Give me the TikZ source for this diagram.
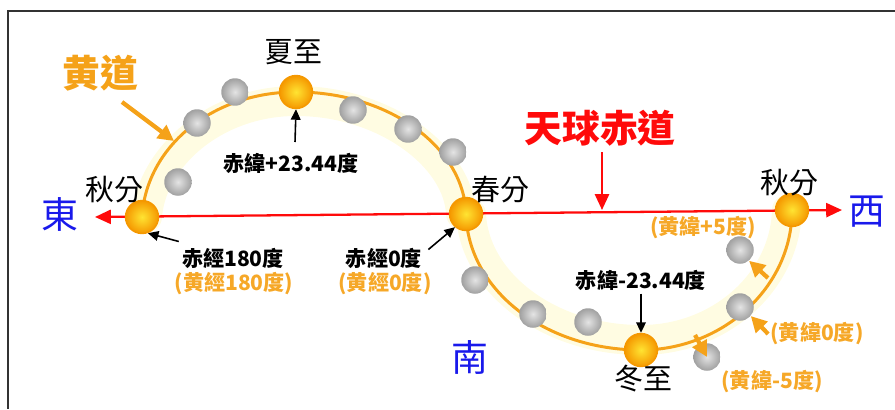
\documentclass[tikz,border=0pt]{standalone}
\usepackage{fontspec}
\setmainfont{Noto Sans CJK TC}
\usepackage{tikz}
\usetikzlibrary{arrows.meta}
\definecolor{SunCore}{RGB}{255,228,50}
\definecolor{SunRim}{RGB}{245,152,0}
\definecolor{EclOrange}{RGB}{245,162,25}
\definecolor{LabOrange}{RGB}{246,168,40}
\definecolor{GlowYellow}{RGB}{255,252,226}
\definecolor{EqRed}{RGB}{255,10,10}
\definecolor{DirBlue}{RGB}{25,25,235}
\definecolor{MoonLight}{RGB}{228,228,228}
\definecolor{MoonDark}{RGB}{160,160,160}
\tikzset{
  sun/.style={circle,draw=SunRim,line width=0.8pt,shading=radial,inner color=SunCore,
    outer color=SunRim,minimum size=0.66cm,inner sep=0pt},
  moon/.style={circle,shading=radial,inner color=MoonLight,outer color=MoonDark,
    minimum size=0.55cm,inner sep=0pt},
  lab/.style={font=\fontsize{16.5}{18}\selectfont,inner sep=0pt},
  blab/.style={font=\fontsize{12}{13}\selectfont\bfseries,inner sep=0pt},
  olab/.style={blab,text=LabOrange},
  dir/.style={font=\fontsize{21}{22}\selectfont,text=DirBlue,inner sep=0pt},
  big/.style={font=\fontsize{21.5}{22}\selectfont\bfseries,inner sep=0pt},
}
\tikzset{ecl/.style={draw=EclOrange,line width=1.7pt}, glow/.style={draw=GlowYellow,line width=0.6cm,line cap=round},
  arr/.style={draw=black,line width=0.9pt,-{Triangle[length=6pt,width=5.5pt]}},
  oarr/.style={draw=EclOrange,line width=2.4pt,-{Triangle[length=9pt,width=9pt]}},
  rarr/.style={draw=EqRed,line width=1.3pt,-{Triangle[length=9pt,width=8pt]}}}

\begin{document}
\begin{tikzpicture}[x=0.02cm,y=-0.02cm]
\useasboundingbox (0,0) rectangle (895,409);
\draw[black!80,line width=1.1pt] (895,11) -- (8,11) -- (8,409);
\coordinate (aut1) at (142,217);
\coordinate (sum) at (296,92);
\coordinate (spr) at (466,214);
\coordinate (win) at (641,350);
\coordinate (aut2) at (792,210);
\coordinate (eqW) at (95,217);
\coordinate (eqE) at (842,210);
% pale band along the ecliptic
\draw[glow] (147,217) .. controls (151,158) and (214,101) .. (296,101) .. controls (386,101) and (459,158) .. (461,214);
\draw[glow] (471,214) .. controls (474,282) and (548,340) .. (641,340) .. controls (720,340) and (785,282) .. (787,210);
\draw[ecl] (aut1) .. controls (146,148) and (211,92) .. (sum) .. controls (390,92) and (464,148) .. (spr)
  .. controls (468,290) and (545,350) .. (win) .. controls (722,350) and (792,288) .. (aut2);
\draw[rarr,{Triangle[length=9pt,width=8pt]}-{Triangle[length=9pt,width=8pt]}] (eqW) -- (eqE);
% moons along the band
\foreach \x/\y [count=\i] in {235/92,197/123,178/182,353/110,408/129,453/152,
  475/280,533/314,588/322,740/250,740/307,707/357}
  \node[moon] (m\i) at (\x,\y) {};
\node[sun] (s1) at (aut1) {};
\node[sun] (s2) at (sum) {};
\node[sun] (s3) at (spr) {};
\node[sun] (s4) at (win) {};
\node[sun] (s5) at (aut2) {};
% labels
\node[big,text=EclOrange] (ecltxt) at (100,73) {黄道};
\node[big,text=EqRed] (eqtxt) at (600,128) {天球赤道};
\node[dir] (east) at (60,214) {東};
\node[dir] (west) at (867,212) {西};
\node[dir] (south) at (470,357) {南};
\node[lab] (t1) at (293,52) {夏至};
\node[lab] (t2) at (114,190) {秋分};
\node[lab] (t3) at (500,190) {春分};
\node[lab] (t4) at (789,183) {秋分};
\node[lab] (t5) at (643,379) {冬至};
\node[blab] (decp) at (291,163) {赤緯+23.44度};
\node[blab] (decm) at (641,280) {赤緯-23.44度};
\node[blab] (ra180) at (233,258) {赤經180度};
\node[olab] (lo180) at (234,284) {(黄經180度)};
\node[blab] (ra0) at (384,258) {赤經0度};
\node[olab] (lo0) at (385,284) {(黄經0度)};
\node[olab] (latp) at (703,228) {(黄緯+5度)};
\node[olab] (lat0) at (817,334) {(黄緯0度)};
\node[olab] (latm) at (772,382) {(黄緯-5度)};
% pointers
\coordinate (eclTail) at (122,102);
\coordinate (eclTip) at (174,141);
\coordinate (eqTail) at (602,152);
\coordinate (eqTip) at (602,210);
\coordinate (cp5) at (768,278);
\coordinate (cm5) at (695,335);
\draw[oarr] (eclTail) -- (eclTip);
\draw[rarr] (eqTail) -- (eqTip);
\draw[arr] (295,142) -- (s2.south);
\draw[arr] (ra180.north west) ++(-3,-6) -- (s1.-70);
\draw[arr] (ra0.north east) ++(6,2) -- (s3.-130);
\draw[arr] (decm.south) ++(0,3) -- (s4.north);
\draw[oarr] (cp5) -- (m10.-50);
\draw[oarr] (lat0.west) ++(-2,0) -- (m11.-40);
\draw[oarr] (cm5) -- (m12.center);
\end{tikzpicture}
\end{document}
